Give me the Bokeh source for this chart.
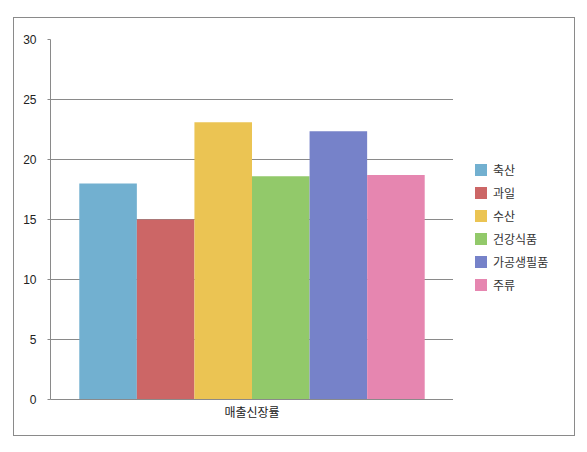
from bokeh.plotting import figure
from bokeh.models import (ColumnDataSource, FactorRange, Range1d, Legend, LegendItem,
                          SingleIntervalTicker)
from bokeh.layouts import row
from bokeh.transform import dodge
from bokeh.embed import file_html
from bokeh.resources import INLINE

category = ["매출신장률"]
series = ["축산", "과일", "수산", "건강식품", "가공생필품", "주류"]
values = [18.0, 15.0, 23.1, 18.6, 22.35, 18.7]
colors = ["#72B0D0", "#CC6666", "#EBC453", "#92C96A", "#7682C9", "#E686B0"]

p = figure(x_range=FactorRange(*category), y_range=Range1d(0, 30),
           width=439, height=417, output_backend="svg", toolbar_location=None,
           min_border_left=36, min_border_right=0, min_border_top=21, min_border_bottom=36)
p.outline_line_color = None
p.background_fill_color = "white"
p.border_fill_color = "white"

# legend panel: its own plot; its renderers are zero-size bars so only the legend shows
pl = figure(title=None, x_range=Range1d(0, 1), y_range=Range1d(0, 30), width=121, height=417,
            output_backend="svg", toolbar_location=None, x_axis_type=None, y_axis_type=None,
            min_border=0)
pl.outline_line_color = None
pl.grid.grid_line_color = None
pl.border_fill_color = "white"

n = len(series)
bw = 1.0 / (n + 1)
items = []
for i, (s, v, c) in enumerate(zip(series, values, colors)):
    src = ColumnDataSource(dict(cat=category, val=[v]))
    p.vbar(x=dodge("cat", (i - (n - 1) / 2) * bw, range=p.x_range), top="val",
           width=bw, source=src, fill_color=c, line_color=None)
    src2 = ColumnDataSource(dict(x=[0.5], val=[v]))
    r2 = pl.vbar(x="x", top="val", bottom="val", width=0, source=src2,
                 fill_color=c, line_color=None)
    items.append(LegendItem(label=s, renderers=[r2]))

legend = Legend(items=items, location=(20, 106), padding=0, margin=0,
                border_line_color=None, background_fill_alpha=0,
                glyph_width=15, glyph_height=15, label_height=15, spacing=6,
                label_standoff=5, label_text_font="Noto Sans CJK KR",
                label_text_font_size="12px", label_text_color="#333333")
pl.add_layout(legend, "center")

p.yaxis.ticker = SingleIntervalTicker(interval=5)
p.yaxis.axis_line_color = "#8a8a8a"
p.yaxis.major_tick_line_color = "#8a8a8a"
p.yaxis.major_tick_out = 3
p.yaxis.major_tick_in = 0
p.yaxis.minor_tick_line_color = None
p.yaxis.major_label_standoff = 10
p.yaxis.major_label_text_font = "Liberation Sans"
p.yaxis.major_label_text_font_size = "12px"
p.yaxis.major_label_text_color = "#222222"

p.xaxis.axis_line_color = "#8a8a8a"
p.xaxis.major_tick_line_color = None
p.xaxis.major_tick_out = 0
p.xaxis.major_tick_in = 0
p.xaxis.minor_tick_line_color = None
p.xaxis.major_label_standoff = 3
p.xaxis.major_label_text_font = "Noto Sans CJK KR"
p.xaxis.major_label_text_font_size = "12px"
p.xaxis.major_label_text_color = "#222222"

p.xgrid.grid_line_color = None
p.ygrid.grid_line_color = "#8a8a8a"
p.ygrid.grid_line_width = 1

layout = row(p, pl, margin=(17, 0, 0, 13), styles={"border": "1px solid #8a8a8a"})

open("out.html", "w").write(file_html(layout, INLINE))
